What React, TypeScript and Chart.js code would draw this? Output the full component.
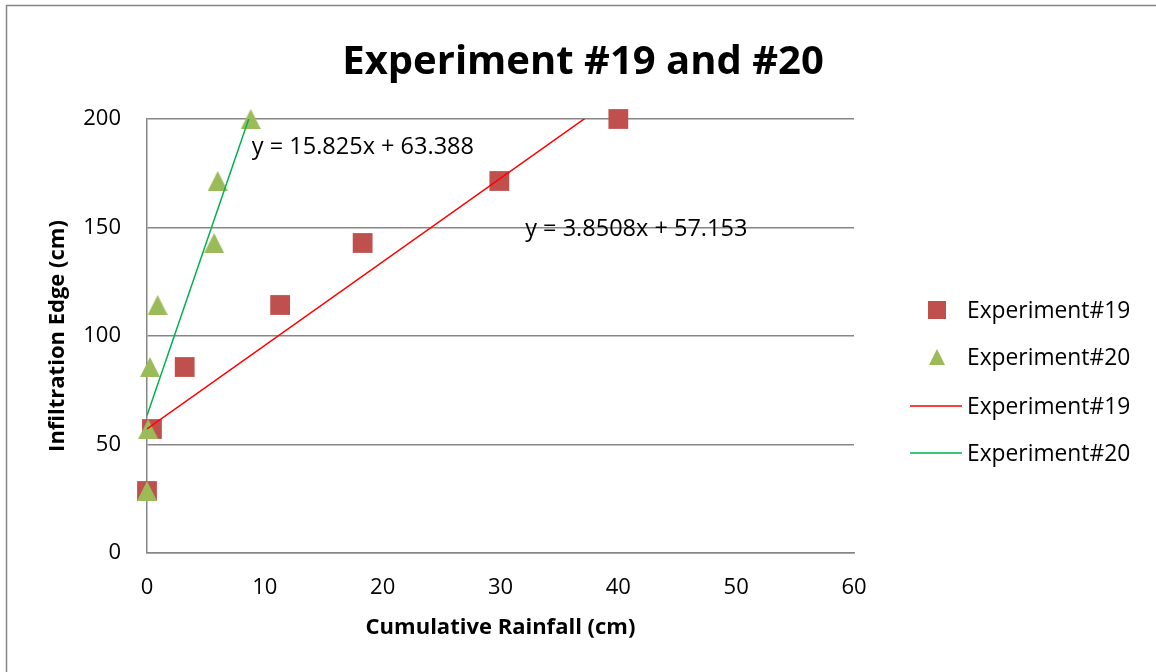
import React, { useEffect, useRef } from "react";
import { Chart, registerables } from "chart.js";

Chart.register(...registerables);

const TITLE = "Experiment #19 and #20";
const X_TITLE = "Cumulative Rainfall (cm)";
const Y_TITLE = "Infiltration Edge (cm)";

const seriesLabels = ["Experiment#19", "Experiment#20"];

const exp19X = [0, 0.42, 3.2, 11.3, 18.3, 29.9, 40.0];
const exp19Y = [28.57, 57.14, 85.71, 114.29, 142.86, 171.43, 200];
const exp20X = [0, 0.1, 0.25, 0.9, 5.7, 6.0, 8.8];
const exp20Y = [28.57, 57.14, 85.71, 114.29, 142.86, 171.43, 200];

const exp19Slope = 3.8508;
const exp19Intercept = 57.153;
const exp20Slope = 15.825;
const exp20Intercept = 63.388;

const xTicks = [0, 10, 20, 30, 40, 50, 60];
const yTicks = [0, 50, 100, 150, 200];

const FONT = "'Open Sans', sans-serif";
const GRAY = "#868686";
const RED_MARK = "#C0504D";
const GREEN_MARK = "#9BBB59";
const RED_LINE = "#FF0000";
const GREEN_LINE = "#00B050";

function trend(xs: number[], slope: number, intercept: number) {
  const lo = Math.min(...xs);
  const hi = Math.max(...xs);
  return [
    { x: lo, y: slope * lo + intercept },
    { x: hi, y: slope * hi + intercept },
  ];
}

function eqText(slope: number, intercept: number) {
  return `y = ${slope}x + ${intercept}`;
}

function makeTriangle(size: number, color: string) {
  const c = document.createElement("canvas");
  c.width = size;
  c.height = size;
  const g = c.getContext("2d")!;
  g.fillStyle = color;
  g.beginPath();
  g.moveTo(size / 2, 0);
  g.lineTo(size, size);
  g.lineTo(0, size);
  g.closePath();
  g.fill();
  return c;
}

const decorPlugin = {
  id: "decor",
  beforeDraw(chart: any) {
    const ctx = chart.ctx;
    ctx.save();
    ctx.fillStyle = "#fff";
    ctx.fillRect(0, 0, chart.width, chart.height);
    ctx.strokeStyle = GRAY;
    ctx.lineWidth = 1.5;
    ctx.beginPath();
    ctx.moveTo(6.5, chart.height);
    ctx.lineTo(6.5, 5.5);
    ctx.lineTo(chart.width, 5.5);
    ctx.stroke();
    ctx.restore();
  },
  afterDraw(chart: any) {
    const ctx = chart.ctx;
    const xs = chart.scales.x;
    const ys = chart.scales.y;
    const area = chart.chartArea;
    ctx.save();
    ctx.fillStyle = "#000";
    // title
    ctx.font = `bold 40px ${FONT}`;
    ctx.textAlign = "center";
    ctx.textBaseline = "alphabetic";
    ctx.fillText(TITLE, 583, 74);
    // axis titles
    ctx.font = `bold 22px ${FONT}`;
    ctx.textBaseline = "middle";
    ctx.fillText(X_TITLE, (area.left + area.right) / 2, 628);
    ctx.save();
    ctx.translate(58, (area.top + area.bottom) / 2);
    ctx.rotate(-Math.PI / 2);
    ctx.fillText(Y_TITLE, 0, 0);
    ctx.restore();
    // equations
    ctx.font = `23.5px ${FONT}`;
    ctx.textAlign = "left";
    ctx.textBaseline = "alphabetic";
    ctx.fillText(eqText(exp20Slope, exp20Intercept), xs.getPixelForValue(8.9), ys.getPixelForValue(187.5) + 8);
    ctx.fillText(eqText(exp19Slope, exp19Intercept), xs.getPixelForValue(32.1), ys.getPixelForValue(150) + 8);
    // legend
    const rows = [310, 357, 406, 453];
    const ds = chart.data.datasets;
    rows.forEach((ry: number, i: number) => {
      const d = ds[i];
      if (i === 0) {
        ctx.fillStyle = d.backgroundColor;
        ctx.fillRect(928, ry - 9, 18, 18);
      } else if (i === 1) {
        ctx.fillStyle = d.backgroundColor;
        ctx.beginPath();
        ctx.moveTo(937, ry - 8);
        ctx.lineTo(945, ry + 8);
        ctx.lineTo(929, ry + 8);
        ctx.closePath();
        ctx.fill();
      } else {
        ctx.strokeStyle = d.borderColor;
        ctx.lineWidth = 1.5;
        ctx.beginPath();
        ctx.moveTo(910, ry);
        ctx.lineTo(962, ry);
        ctx.stroke();
      }
      ctx.fillStyle = "#000";
      ctx.font = `22.8px ${FONT}`;
      ctx.textBaseline = "alphabetic";
      ctx.fillText(d.label, 967, ry + 8);
    });
    ctx.restore();
  },
};

export default function App() {
  const ref = useRef<HTMLCanvasElement>(null);
  useEffect(() => {
    if (!ref.current) return;
    const tri = makeTriangle(20, GREEN_MARK);
    const chart = new Chart(ref.current, {
      type: "scatter",
      data: {
        datasets: [
          {
            label: seriesLabels[0],
            data: exp19X.map((x, i) => ({ x, y: exp19Y[i] })),
            backgroundColor: RED_MARK,
            borderWidth: 0,
            pointStyle: "rect",
            pointRadius: 14,
            pointHoverRadius: 14,
            showLine: false,
            clip: false,
            order: 2,
          } as any,
          {
            label: seriesLabels[1],
            data: exp20X.map((x, i) => ({ x, y: exp20Y[i] })),
            backgroundColor: GREEN_MARK,
            borderWidth: 0,
            pointStyle: tri,
            pointRadius: 10,
            pointHoverRadius: 10,
            showLine: false,
            clip: false,
            order: 1,
          } as any,
          {
            label: seriesLabels[0],
            data: trend(exp19X, exp19Slope, exp19Intercept),
            borderColor: RED_LINE,
            backgroundColor: RED_LINE,
            borderWidth: 1.5,
            pointRadius: 0,
            showLine: true,
            clip: 0,
            order: 0,
          } as any,
          {
            label: seriesLabels[1],
            data: trend(exp20X, exp20Slope, exp20Intercept),
            borderColor: GREEN_LINE,
            backgroundColor: GREEN_LINE,
            borderWidth: 1.5,
            pointRadius: 0,
            showLine: true,
            clip: 0,
            order: 0,
          } as any,
        ],
      },
      options: {
        responsive: false,
        animation: false,
        events: [],
        layout: { padding: { top: 119, right: 302, left: 0, bottom: 0 } },
        plugins: {
          legend: { display: false },
          tooltip: { enabled: false },
          title: { display: false },
        },
        scales: {
          x: {
            type: "linear",
            min: xTicks[0],
            max: xTicks[xTicks.length - 1],
            afterBuildTicks: (s: any) => {
              s.ticks = xTicks.map((v) => ({ value: v }));
            },
            afterFit: (s: any) => {
              s.height = 119;
            },
            grid: { display: false, drawTicks: false },
            border: { display: true, color: GRAY, width: 1.5 },
            ticks: { padding: 22, color: "#000", font: { family: FONT, size: 22 } },
          },
          y: {
            type: "linear",
            min: yTicks[0],
            max: yTicks[yTicks.length - 1],
            afterBuildTicks: (s: any) => {
              s.ticks = yTicks.map((v) => ({ value: v }));
            },
            afterFit: (s: any) => {
              s.width = 147;
            },
            grid: { display: true, color: GRAY, lineWidth: 1.5, drawTicks: false },
            border: { display: true, color: GRAY, width: 1.5 },
            ticks: { padding: 26, color: "#000", font: { family: FONT, size: 22 } },
          },
        },
      },
      plugins: [decorPlugin],
    });
    return () => chart.destroy();
  }, []);
  return (
    <div style={{ position: "fixed", left: 0, top: 0, width: 1156, height: 672, background: "#fff" }}>
      <canvas ref={ref} width={1156} height={672} style={{ display: "block" }} />
    </div>
  );
}
